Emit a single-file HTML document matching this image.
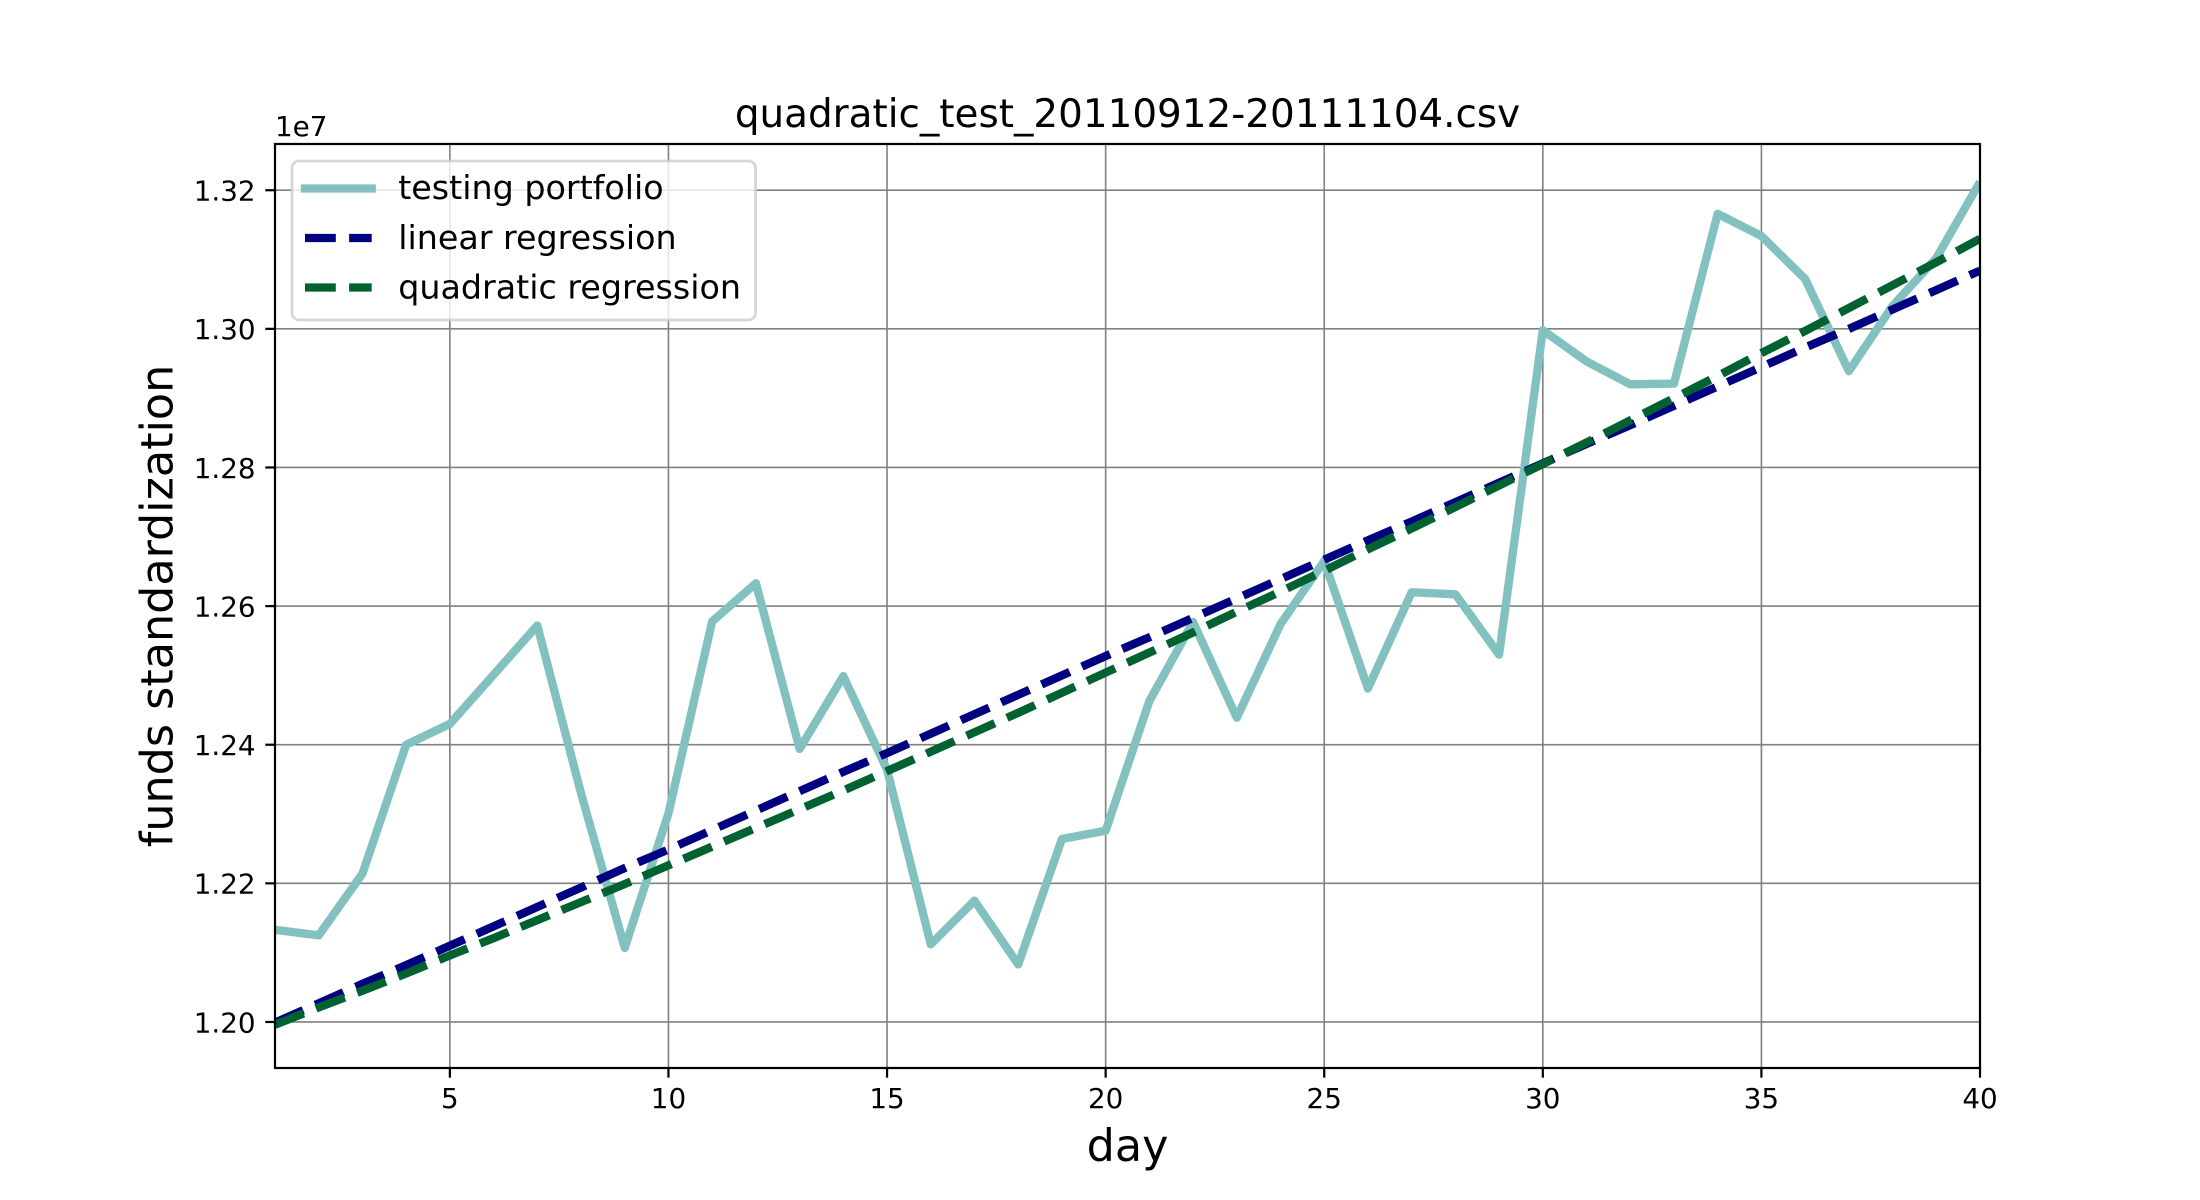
<!DOCTYPE html>
<html lang="en">
<head>
<meta charset="utf-8">
<title>quadratic_test_20110912-20111104.csv</title>
<style>
  html, body { margin: 0; padding: 0; background: #fff; }
  #chart { display: block; width: 2200px; height: 1200px; }
  text { font-family: "DejaVu Sans", "Liberation Sans", sans-serif; fill: #000; }
</style>
</head>
<body>
<svg id="chart" xmlns="http://www.w3.org/2000/svg" width="2200" height="1200" viewBox="0 0 2200 1200">
  <defs>
    <clipPath id="plot-clip"><rect x="275" y="144" width="1705" height="924"/></clipPath>
  </defs>
  <rect x="0" y="0" width="2200" height="1200" fill="#fff"/>
  <g id="grid"></g>
  <g id="series" clip-path="url(#plot-clip)"></g>

  <g>
    <rect x="292" y="161" width="463.5" height="159" rx="7" ry="7" fill="#fff" fill-opacity="0.8" stroke="#ccc" stroke-opacity="0.8" stroke-width="2.78"/>
    <line x1="305" y1="188.5" x2="371.7" y2="188.5" stroke="#83c1c0" stroke-width="8.33" stroke-linecap="square"/>
    <line x1="305" y1="238" x2="371.7" y2="238" stroke="#000080" stroke-width="8.33" stroke-dasharray="30.8 13.3"/>
    <line x1="305" y1="287.5" x2="371.7" y2="287.5" stroke="#006131" stroke-width="8.33" stroke-dasharray="30.8 13.3"/>
    <text x="398.2" y="199" font-size="33.33">testing portfolio</text>
    <text x="398.2" y="249" font-size="33.33">linear regression</text>
    <text x="398.2" y="298.5" font-size="33.33">quadratic regression</text>
  </g>

  <rect x="275" y="144" width="1705" height="924" fill="none" stroke="#000" stroke-width="2.22"/>
  <g id="ticks"></g>

  <text x="1127.5" y="127" font-size="38.89" text-anchor="middle">quadratic_test_20110912-20111104.csv</text>
  <text x="275" y="136" font-size="27.78">1e7</text>
  <text x="1127.5" y="1161" font-size="44.44" text-anchor="middle">day</text>
  <text transform="translate(172.5 606) rotate(-90)" font-size="44.44" text-anchor="middle">funds standardization</text>
</svg>

<script>
const days = [1,2,3,4,5,6,7,8,9,10,11,12,13,14,15,16,17,18,19,20,21,22,23,24,25,26,27,28,29,30,31,32,33,34,35,36,37,38,39,40];
const testingPortfolio = [1.2133,1.2125,1.2214,1.2400,1.2430,1.2501,1.2572,1.2330,1.2107,1.2301,1.2578,1.2633,1.2394,1.2499,1.2364,1.2112,1.2175,1.2083,1.2264,1.2276,1.2463,1.2577,1.2439,1.2574,1.2665,1.2481,1.2620,1.2617,1.2530,1.2998,1.2953,1.2920,1.2921,1.3166,1.3134,1.3072,1.2939,1.3033,1.3102,1.3212];
const linearRegression = [1.1999,1.2027,1.2055,1.2082,1.2110,1.2138,1.2166,1.2194,1.2222,1.2249,1.2277,1.2305,1.2333,1.2361,1.2388,1.2416,1.2444,1.2472,1.2500,1.2528,1.2555,1.2583,1.2611,1.2639,1.2667,1.2695,1.2722,1.2750,1.2778,1.2806,1.2834,1.2861,1.2889,1.2917,1.2945,1.2973,1.3000,1.3028,1.3056,1.3084];
const quadraticRegression = [1.1996,1.2021,1.2045,1.2070,1.2096,1.2121,1.2147,1.2173,1.2199,1.2226,1.2253,1.2280,1.2307,1.2334,1.2362,1.2390,1.2418,1.2446,1.2475,1.2504,1.2533,1.2562,1.2592,1.2621,1.2651,1.2682,1.2712,1.2743,1.2774,1.2805,1.2836,1.2868,1.2900,1.2932,1.2965,1.2997,1.3030,1.3063,1.3096,1.3130];
const xTickValues = [5,10,15,20,25,30,35,40];
const xTickLabels = ['5','10','15','20','25','30','35','40'];
const yTickValues = [1.20,1.22,1.24,1.26,1.28,1.30,1.32];
const yTickLabels = ['1.20','1.22','1.24','1.26','1.28','1.30','1.32'];

const SVG_NS = 'http://www.w3.org/2000/svg';
const plot = { left: 275, right: 1980, top: 144, bottom: 1068 };
const xDomain = [1, 40];
const yDomain = [1.19336, 1.32667];

function xScale(v) {
  return plot.left + (v - xDomain[0]) / (xDomain[1] - xDomain[0]) * (plot.right - plot.left);
}
function yScale(v) {
  return plot.bottom - (v - yDomain[0]) / (yDomain[1] - yDomain[0]) * (plot.bottom - plot.top);
}
function makeLine(x1, y1, x2, y2, color, width) {
  const el = document.createElementNS(SVG_NS, 'line');
  el.setAttribute('x1', x1);
  el.setAttribute('y1', y1);
  el.setAttribute('x2', x2);
  el.setAttribute('y2', y2);
  el.setAttribute('stroke', color);
  el.setAttribute('stroke-width', width);
  return el;
}
function makePolyline(xs, ys, color, dash) {
  const el = document.createElementNS(SVG_NS, 'polyline');
  el.setAttribute('points', xs.map(function (d, i) { return xScale(d).toFixed(2) + ',' + yScale(ys[i]).toFixed(2); }).join(' '));
  el.setAttribute('fill', 'none');
  el.setAttribute('stroke', color);
  el.setAttribute('stroke-width', '8.33');
  el.setAttribute('stroke-linejoin', 'round');
  if (dash) el.setAttribute('stroke-dasharray', dash);
  return el;
}
function makeLabel(x, y, str, anchor) {
  const el = document.createElementNS(SVG_NS, 'text');
  el.setAttribute('x', x);
  el.setAttribute('y', y);
  el.setAttribute('font-size', '27.78');
  el.setAttribute('text-anchor', anchor);
  el.textContent = str;
  return el;
}

const gridGroup = document.getElementById('grid');
const seriesGroup = document.getElementById('series');
const tickGroup = document.getElementById('ticks');

xTickValues.forEach(function (v, i) {
  const px = xScale(v);
  const grid = makeLine(px, plot.top, px, plot.bottom, '#808080', 1.6);
  
  
  gridGroup.appendChild(grid);
  const tick = makeLine(px, plot.bottom, px, plot.bottom + 9.7, '#000', 2.22);
  
  
  tickGroup.appendChild(tick);
  const label = makeLabel(px, 1108, xTickLabels[i], 'middle');
  
  
  tickGroup.appendChild(label);
});

yTickValues.forEach(function (v, i) {
  const py = yScale(v);
  const grid = makeLine(plot.left, py, plot.right, py, '#808080', 1.6);
  
  
  gridGroup.appendChild(grid);
  const tick = makeLine(plot.left - 9.7, py, plot.left, py, '#000', 2.22);
  
  
  tickGroup.appendChild(tick);
  const label = makeLabel(plot.left - 19.4, py + 10.3, yTickLabels[i], 'end');
  
  
  tickGroup.appendChild(label);
});

const portfolioLine = makePolyline(days, testingPortfolio, '#83c1c0', null);


seriesGroup.appendChild(portfolioLine);

const linearLine = makePolyline(days, linearRegression, '#000080', '30.8 13.3');


seriesGroup.appendChild(linearLine);

const quadraticLine = makePolyline(days, quadraticRegression, '#006131', '30.8 13.3');


seriesGroup.appendChild(quadraticLine);
</script>
</body>
</html>
